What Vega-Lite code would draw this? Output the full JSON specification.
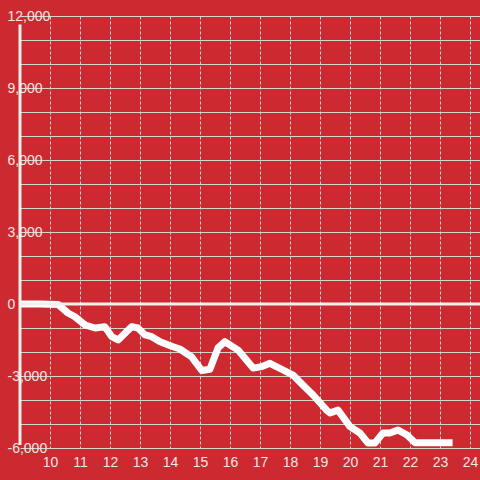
{
  "$schema": "https://vega.github.io/schema/vega-lite/v6.json",
  "width": 460,
  "height": 432,
  "autosize": {"type": "none"},
  "padding": {"left": 20, "top": 16, "right": 0, "bottom": 32},
  "background": "#cc2a30",
  "config": {"view": {"stroke": null}, "font": "Liberation Sans"},
  "data": {
    "values": [
      {"h": 9.0, "v": 0},
      {"h": 9.67, "v": 0},
      {"h": 10.27, "v": -20},
      {"h": 10.6, "v": -375},
      {"h": 10.83, "v": -530},
      {"h": 11.17, "v": -875},
      {"h": 11.5, "v": -1000},
      {"h": 11.83, "v": -945},
      {"h": 12.06, "v": -1360},
      {"h": 12.27, "v": -1500},
      {"h": 12.72, "v": -945},
      {"h": 12.93, "v": -1000},
      {"h": 13.17, "v": -1290},
      {"h": 13.39, "v": -1360},
      {"h": 13.67, "v": -1570},
      {"h": 14.1, "v": -1780},
      {"h": 14.33, "v": -1875},
      {"h": 14.72, "v": -2200},
      {"h": 15.06, "v": -2770},
      {"h": 15.33, "v": -2720},
      {"h": 15.6, "v": -1830},
      {"h": 15.83, "v": -1570},
      {"h": 16.27, "v": -1920},
      {"h": 16.77, "v": -2670},
      {"h": 17.06, "v": -2610},
      {"h": 17.33, "v": -2470},
      {"h": 17.77, "v": -2750},
      {"h": 18.1, "v": -2960},
      {"h": 18.43, "v": -3375},
      {"h": 18.77, "v": -3790},
      {"h": 19.22, "v": -4420},
      {"h": 19.33, "v": -4540},
      {"h": 19.6, "v": -4420},
      {"h": 20.0, "v": -5110},
      {"h": 20.33, "v": -5375},
      {"h": 20.6, "v": -5790},
      {"h": 20.83, "v": -5790},
      {"h": 21.1, "v": -5375},
      {"h": 21.33, "v": -5375},
      {"h": 21.6, "v": -5250},
      {"h": 21.9, "v": -5460},
      {"h": 22.17, "v": -5780},
      {"h": 23.42, "v": -5780}
    ]
  },
  "layer": [
    {
      "mark": {"type": "line", "color": "#ffffff", "strokeWidth": 7, "strokeJoin": "round", "strokeCap": "butt"},
      "encoding": {
        "x": {
          "field": "h",
          "type": "quantitative",
          "scale": {"domain": [9, 24.3333], "nice": false, "zero": false},
          "axis": {
            "values": [10, 11, 12, 13, 14, 15, 16, 17, 18, 19, 20, 21, 22, 23, 24],
            "tickCount": 40,
            "format": "d",
            "title": null,
            "grid": true,
            "gridColor": "#d4d4d4",
            "gridDash": [3, 2],
            "gridWidth": 1,
            "domain": false,
            "ticks": false,
            "labelPadding": 7,
            "labelFontSize": 14,
            "labelColor": "#f7e4e4",
            "labelFlush": false,
            "labelOverlap": false
          }
        },
        "y": {
          "field": "v",
          "type": "quantitative",
          "scale": {"domain": [-6000, 12000], "nice": false, "zero": false},
          "axis": {
            "values": [-6000, -5000, -4000, -3000, -2000, -1000, 0, 1000, 2000, 3000, 4000, 5000, 6000, 7000, 8000, 9000, 10000, 11000, 12000],
            "tickCount": 40,
            "labelExpr": "datum.value % 3000 === 0 ? replace(format(datum.value, ','), '\u2212', '-') : ''",
            "title": null,
            "grid": true,
            "gridColor": "#d4d4d4",
            "gridWidth": 1,
            "domain": false,
            "ticks": false,
            "labelAlign": "left",
            "labelBaseline": "middle",
            "labelPadding": 13,
            "labelFontSize": 14,
            "labelColor": "#f7e4e4",
            "labelOverlap": false,
            "labelFlush": false
          }
        }
      }
    },
    {
      "data": {"values": [{}]},
      "mark": {"type": "rule", "color": "#f4f0f0", "strokeWidth": 3},
      "encoding": {"y": {"datum": 0, "type": "quantitative"}}
    },
    {
      "data": {"values": [{}]},
      "mark": {"type": "rule", "color": "#f4f0f0", "strokeWidth": 3},
      "encoding": {
        "x": {"datum": 9, "type": "quantitative"},
        "y": {"datum": 11650, "type": "quantitative"},
        "y2": {"datum": -5880}
      }
    }
  ]
}
